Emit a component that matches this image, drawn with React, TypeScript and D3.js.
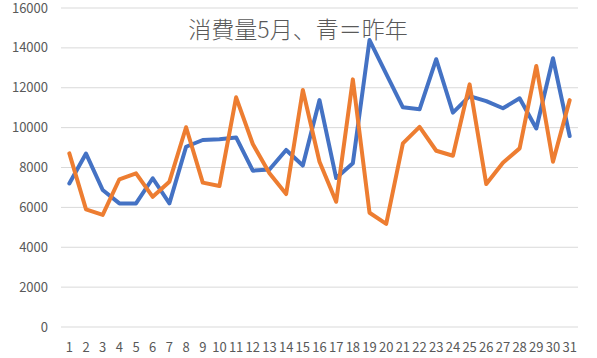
import React from "react";
import * as d3 from "d3";

const days = d3.range(1, 32).map(String);
const lastYear = [7200, 8700, 6870, 6200, 6200, 7460, 6200, 9040, 9380, 9420, 9510, 7840, 7900, 8880, 8100, 11380, 7470, 8210, 14390, 12700, 11020, 10920, 13430, 10750, 11580, 11330, 10970, 11470, 9960, 13480, 9580];
const thisYear = [8710, 5900, 5620, 7410, 7710, 6530, 7290, 10020, 7240, 7070, 11520, 9180, 7710, 6670, 11890, 8290, 6280, 12420, 5730, 5170, 9210, 10040, 8840, 8590, 12170, 7170, 8240, 8960, 13090, 8290, 11380];
const yTicks = [0, 2000, 4000, 6000, 8000, 10000, 12000, 14000, 16000];
const title = "消費量5月、青＝昨年";

const W = 597, H = 358;
const left = 61, right = 578, top = 8, bottom = 327;

export default function App() {
  const x = d3.scaleBand().domain(days).range([left, right]);
  const y = d3.scaleLinear().domain([0, 16000]).range([bottom, top]);
  const cx = (d: string) => (x(d) as number) + x.bandwidth() / 2;
  const line = (vals: number[]) =>
    d3.line<number>().x((_, i) => cx(days[i])).y((v) => y(v))(vals) as string;
  const font = "'Noto Sans CJK JP', 'Noto Sans', sans-serif";
  return (
    <svg width={W} height={H} style={{ position: "absolute", left: 0, top: 0, background: "#fff" }}>
      {yTicks.map((t) => (
        <g key={t}>
          <line x1={left} x2={right} y1={y(t)} y2={y(t)} stroke="#d9d9d9" strokeWidth={1} />
          <text x={48} y={y(t)} dy="0.35em" textAnchor="end" fontSize={13} fill="#595959" fontFamily={font}>{t}</text>
        </g>
      ))}
      {days.map((d) => (
        <text key={d} x={cx(d)} y={347} dy="0.35em" textAnchor="middle" fontSize={13} fill="#595959" fontFamily={font}>{d}</text>
      ))}
      <path d={line(lastYear)} fill="none" stroke="#4472C4" strokeWidth={4} strokeLinejoin="round" strokeLinecap="round" />
      <path d={line(thisYear)} fill="none" stroke="#ED7D31" strokeWidth={4} strokeLinejoin="round" strokeLinecap="round" />
      <text x={298} y={30} dy="0.35em" textAnchor="middle" fontSize={23} fontWeight={300} fill="#595959" fontFamily={font}>{title}</text>
    </svg>
  );
}
